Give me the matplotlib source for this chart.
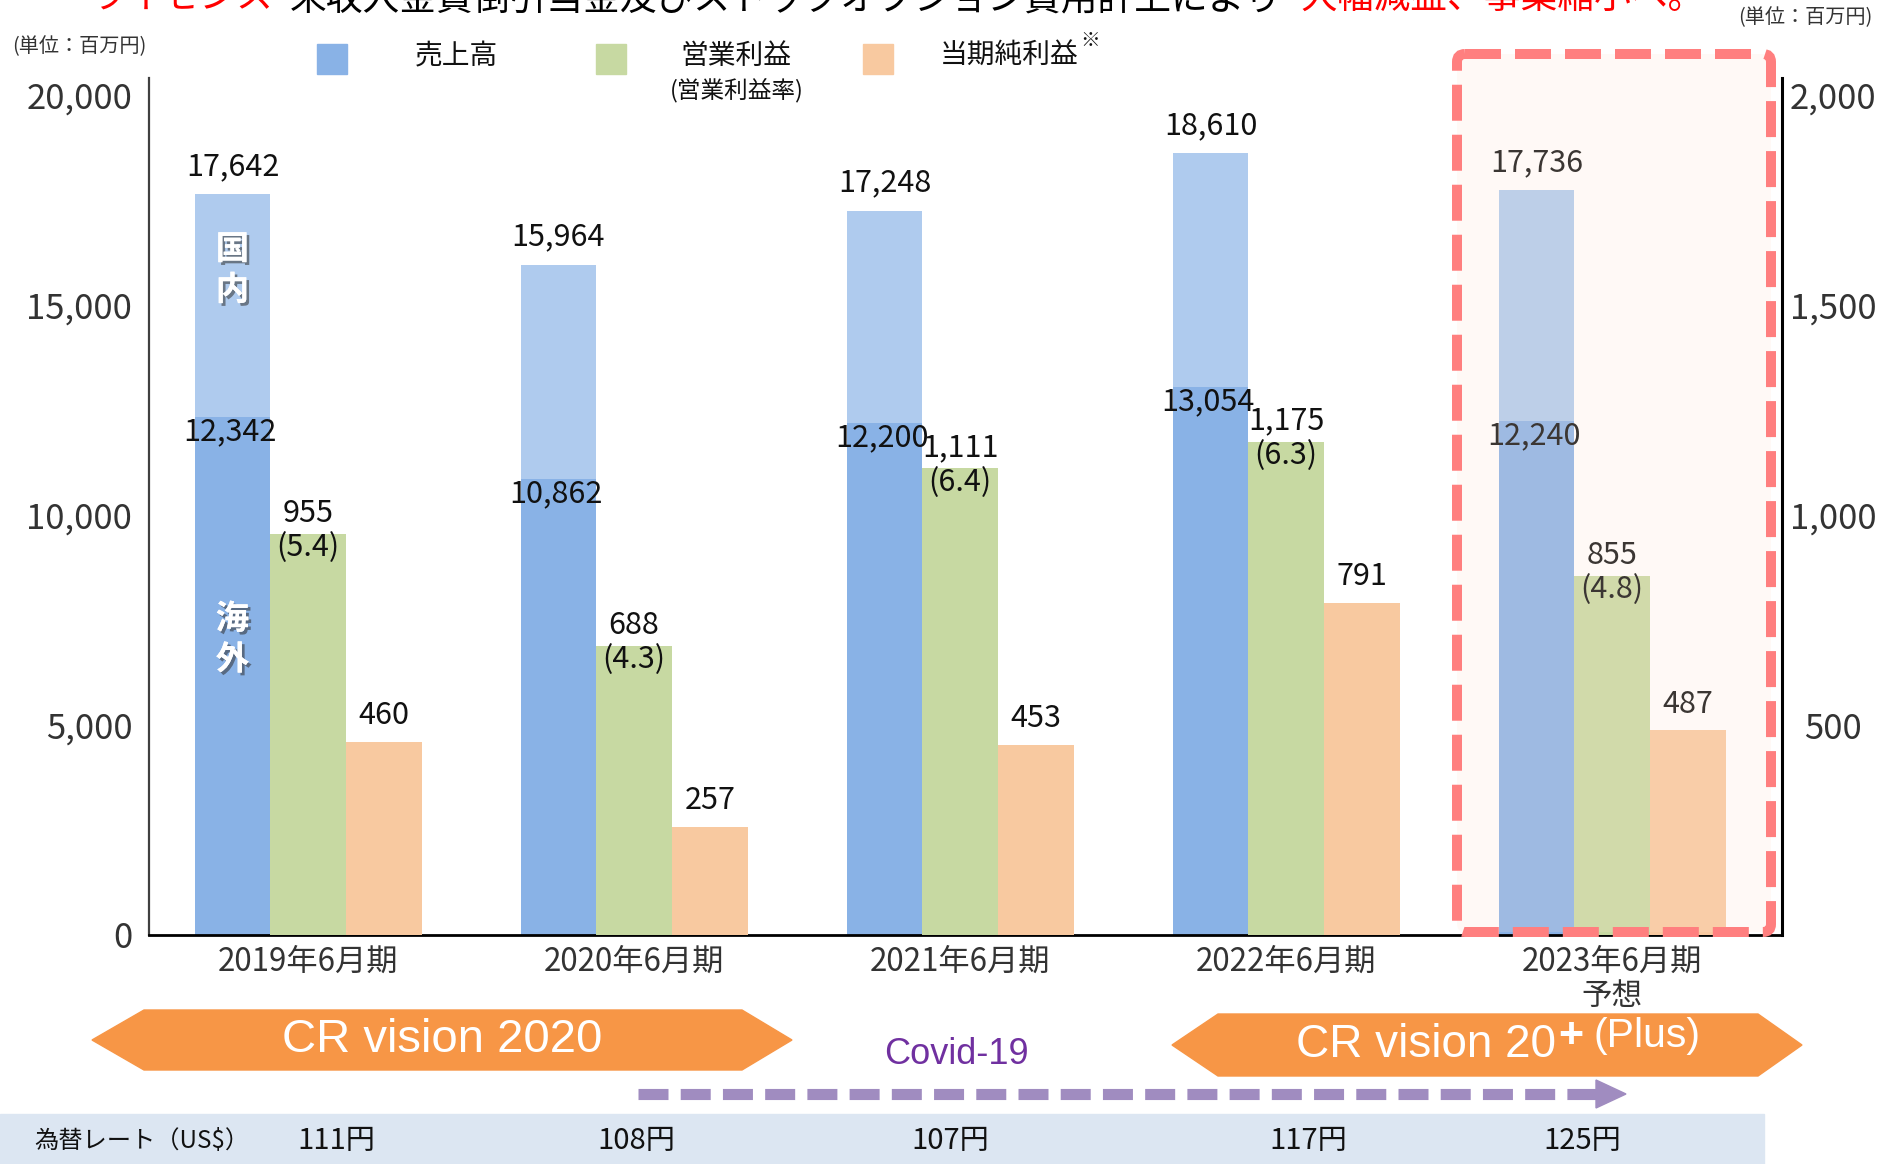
import numpy as np
import matplotlib
matplotlib.use("Agg")
import matplotlib.pyplot as plt
from matplotlib.patches import Rectangle, Polygon, FancyBboxPatch
import matplotlib.patheffects as pe

plt.rcParams['font.family'] = ['Noto Sans CJK JP', 'DejaVu Sans']

#--Données (百万円) ---------------------------
periods = ["2019年6月期", "2020年6月期", "2021年6月期", "2022年6月期", "2023年6月期"]
sales_total = [17642, 15964, 17248, 18610, 17736]      # 売上高
sales_overseas = [12342, 10862, 12200, 13054, 12240]   # 海外
op_income = [955, 688, 1111, 1175, 855]                # 営業利益
op_margin = [5.4, 4.3, 6.4, 6.3, 4.8]                  # 営業利益率
net_income = [460, 257, 453, 791, 487]                 # 当期純利益
fx_rate = ["111円", "108円", "107円", "117円", "125円"]
left_ticks = [0, 5000, 10000, 15000, 20000]
right_ticks = [500, 1000, 1500, 2000]

#--Couleurs --------------------------------
c_over = "#89B2E6"
c_dom = "#AFCBEE"
c_green = "#C7D9A2"
c_orange = "#F8C9A0"
c_arrow = "#F79646"
txt = "#111111"
grey = "#333333"

W, H = 1881, 1164
fig = plt.figure(figsize=(W / 100, H / 100), dpi=100)

ax = fig.add_axes([149 / W, 1 - 935 / H, (1782 - 149) / W, (935 - 78) / H])
ax.set_facecolor('none')
x = np.arange(len(periods))
bw = 0.232
domestic = np.array(sales_total) - np.array(sales_overseas)

ax.bar(x - bw, sales_overseas, bw, color=c_over, zorder=2)
ax.bar(x - bw, domestic, bw, bottom=sales_overseas, color=c_dom, zorder=2)
ax.set_xlim(-0.488, 4.521)
ax.set_ylim(0, 20405)

ax2 = ax.twinx()
ax2.set_ylim(0, 2040.5)
ax2.bar(x, op_income, bw, color=c_green, zorder=2)
ax2.bar(x + bw, net_income, bw, color=c_orange, zorder=2)

for s in ["top", "right"]:
    ax.spines[s].set_visible(False)
for s in ["top", "left", "bottom"]:
    ax2.spines[s].set_visible(False)
ax.spines["left"].set_color("#404040")
ax.spines["left"].set_linewidth(1.6)
ax.spines["bottom"].set_color("black")
ax.spines["bottom"].set_linewidth(2)
ax2.spines["right"].set_color("black")
ax2.spines["right"].set_linewidth(2.2)

ax.set_yticks(left_ticks)
ax.set_yticklabels([f"{v:,}" for v in left_ticks])
ax.tick_params(axis='y', length=0, pad=12, labelsize=25, labelcolor=grey)
ax.set_xticks(x)
ax.set_xticklabels(periods)
ax.tick_params(axis='x', length=0, pad=8, labelsize=22.5, labelcolor=grey)
ax2.set_yticks(right_ticks)
ax2.set_yticklabels([f"{v:,}" for v in right_ticks])
ax2.tick_params(axis='y', length=0, pad=37, labelsize=25, labelcolor=grey)
for lbl in ax2.get_yticklabels():
    lbl.set_ha('center')

ax.text(4, -0.072, "予想", transform=ax.get_xaxis_transform(), ha='center',
        va='center', fontsize=22, color=grey)

# étiquettes des valeurs
for i in range(len(periods)):
    ax.annotate(f"{sales_total[i]:,}", (x[i] - bw, sales_total[i]), xytext=(0, 20),
                textcoords='offset points', ha='center', va='center', fontsize=22, color=txt, zorder=4)
    ax.annotate(f"{sales_overseas[i]:,}", (x[i] - bw, sales_overseas[i]), xytext=(-2, -11),
                textcoords='offset points', ha='center', va='center', fontsize=22, color=txt, zorder=4)
    ax2.annotate(f"{op_income[i]:,}", (x[i], op_income[i]), xytext=(0, 15),
                 textcoords='offset points', ha='center', va='center', fontsize=22, color=txt, zorder=4)
    ax2.annotate(f"({op_margin[i]})", (x[i], op_income[i]), xytext=(0, -10),
                 textcoords='offset points', ha='center', va='center', fontsize=22, color=txt, zorder=4)
    ax2.annotate(f"{net_income[i]:,}", (x[i] + bw, net_income[i]), xytext=(0, 19),
                 textcoords='offset points', ha='center', va='center', fontsize=22, color=txt, zorder=4)

shadow = [pe.withSimplePatchShadow(offset=(2, -2), shadow_rgbFace='#303030', alpha=0.55), pe.Normal()]
ax.text(x[0] - bw, 15830, "国\n内", ha='center', va='center', fontsize=24, fontweight='bold',
        color='white', linespacing=1.3, path_effects=shadow, zorder=4)
ax.text(x[0] - bw, 7030, "海\n外", ha='center', va='center', fontsize=24, fontweight='bold',
        color='white', linespacing=1.3, path_effects=shadow, zorder=4)

#--Couche de dessin en pixels ---------------
ov = fig.add_axes([0, 0, 1, 1], zorder=5)
ov.set_xlim(0, W)
ov.set_ylim(H, 0)
ov.axis('off')
ov.patch.set_alpha(0)

# cadre 2023 (prévision)
box = FancyBboxPatch((1457, 54), 1771 - 1457, 932 - 54, boxstyle="round,pad=0,rounding_size=8",
                     facecolor=(1.0, 0.89, 0.82, 0.18), edgecolor="#FF7F7F", linewidth=7.2,
                     linestyle=(0, (3.6, 1.4)))
ov.add_patch(box)

# titre (coupé en haut, comme sur l'original)
ov.text(90, 9, "ライセンス", color='red', fontsize=26.5, va='baseline', ha='left')
ov.text(290, 9, "未収入金貸倒引当金及びストックオプション費用計上により", color='black',
        fontsize=26.5, va='baseline', ha='left')
ov.text(1300, 9, "大幅減益、事業縮小へ。", color='red', fontsize=26.5, va='baseline', ha='left')

# unités
ov.text(12, 47, "(単位：百万円)", fontsize=14.5, color=grey, va='center', ha='left')
ov.text(1872, 18, "(単位：百万円)", fontsize=14.5, color=grey, va='center', ha='right')

# légende
ov.add_patch(Rectangle((317, 44), 30, 30, color=c_over))
ov.add_patch(Rectangle((596, 44), 30, 30, color=c_green))
ov.add_patch(Rectangle((863, 44), 30, 30, color=c_orange))
ov.text(456, 56, "売上高", fontsize=20, color=txt, ha='center', va='center')
ov.text(736, 56, "営業利益", fontsize=20, color=txt, ha='center', va='center')
ov.text(737, 90, "(営業利益率)", fontsize=17, color=txt, ha='center', va='center')
ov.text(1009, 56, "当期純利益", fontsize=20, color=txt, ha='center', va='center')
ov.text(1090, 40, "※", fontsize=14, color=txt, ha='center', va='center')

# flèches CR vision
ov.add_patch(Polygon([(92, 1040), (144, 1010), (742, 1010), (792, 1040), (742, 1070), (144, 1070)],
                     closed=True, color=c_arrow))
ov.text(442, 1040, "CR vision 2020", fontsize=34, color='white', ha='center', va='center',
        family=['Liberation Sans'])
ov.add_patch(Polygon([(1172, 1045), (1218, 1014), (1758, 1014), (1802, 1045), (1758, 1076), (1218, 1076)],
                     closed=True, color=c_arrow))
ov.text(1556, 1045, "CR vision 20", fontsize=33, color='white', ha='right', va='center',
        family=['Liberation Sans'])
ov.text(1558, 1036, "+", fontsize=31, color='white', ha='left', va='center', fontweight='bold',
        family=['Liberation Sans'])
ov.text(1594, 1036, "(Plus)", fontsize=29.5, color='white', ha='left', va='center',
        family=['Liberation Sans'])

# Covid-19
ov.text(956, 1055, "Covid-19", fontsize=26, color="#7030A0", ha='center', va='center',
        family=['Liberation Sans'])
ov.plot([638, 1598], [1094, 1094], color="#A08CC0", linewidth=8, dashes=(2.7, 1.1),
        solid_capstyle='butt', dash_capstyle='butt')
ov.add_patch(Polygon([(1596, 1080), (1626, 1094), (1596, 1108)], closed=True, color="#A08CC0"))

# bande des taux de change
ov.add_patch(Rectangle((0, 1114), 1764, 50, color="#DCE6F2", zorder=0))
ov.text(34, 1141, "為替レート（US$）", fontsize=17.5, color=txt, ha='left', va='center')
fx_x = [336, 636, 950, 1308, 1582]
for xp, r in zip(fx_x, fx_rate):
    ov.text(xp, 1141, r, fontsize=21, color=txt, ha='center', va='center')

plt.savefig("out.png", dpi=100)
